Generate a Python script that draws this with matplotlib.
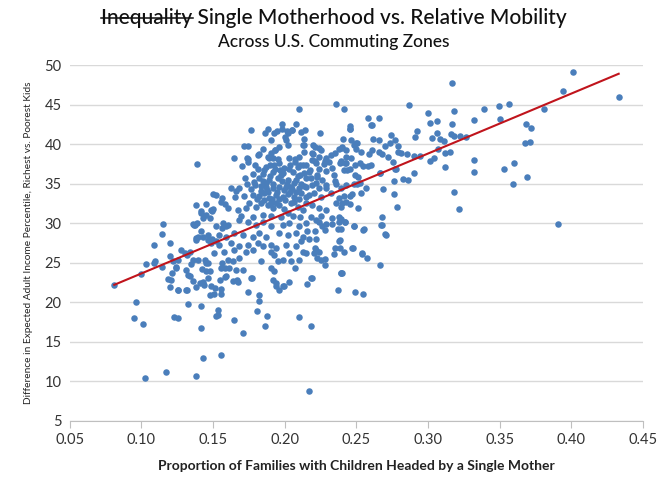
import numpy as np
import matplotlib
matplotlib.use("Agg")
import matplotlib.pyplot as plt
from matplotlib.lines import Line2D

# =========================================================
# DATA  (share of single-mother families, mobility gap)
# =========================================================

left_tail = [
    (0.081, 22.2), (0.0946, 18.0), (0.0965, 20.0), (0.101, 17.3), (0.0997, 23.6),
    (0.1028, 10.4), (0.1035, 24.8), (0.1088, 27.2), (0.1088, 25.0), (0.1144, 28.6),
    (0.114, 24.5), (0.117, 11.2), (0.120, 27.5), (0.120, 25.9), (0.1197, 21.9),
    (0.1186, 22.9), (0.1212, 23.7), (0.1227, 18.1), (0.1253, 18.0), (0.1253, 21.5),
    (0.124, 24.5), (0.1278, 26.6), (0.1325, 19.8), (0.1316, 21.5), (0.131, 24.1),
    (0.1327, 23.4), (0.1344, 24.8), (0.132, 26.0), (0.1358, 22.7), (0.1379, 21.9),
    (0.1383, 10.7), (0.1418, 19.5), (0.1413, 16.7), (0.143, 13.0), (0.1407, 22.4),
    (0.1434, 22.2), (0.142, 24.2), (0.1448, 23.9), (0.1395, 25.4), (0.145, 24.9),
    (0.148, 20.9), (0.1151, 29.9), (0.1093, 25.2), (0.1302, 26.2), (0.1337, 26.4),
    (0.136, 29.9), (0.1371, 29.8), (0.1395, 28.3), (0.1379, 27.9), (0.1418, 29.0),
    (0.1464, 27.9), (0.1488, 27.5), (0.122, 25.2), (0.1255, 25.4), (0.136, 25.4),
    (0.1441, 25.4), (0.1464, 25.0), (0.1244, 24.3), (0.1476, 23.9), (0.1209, 22.8),
    (0.1337, 23.3), (0.1430, 22.6), (0.1464, 23.1), (0.1488, 22.0), (0.1255, 21.6),
    (0.1314, 21.6), (0.139, 37.5), (0.1383, 32.3), (0.1453, 32.4), (0.1488, 31.7),
    (0.1418, 31.3), (0.1448, 31.0), (0.1476, 30.7), (0.143, 30.7), (0.1418, 31.5),
    (0.1388, 30.0), (0.1365, 29.8), (0.1383, 28.1), (0.143, 28.3), (0.1465, 28.5),
    (0.149, 28.0), (0.15, 33.7),
]

lower_band = [
    (0.1504, 21.1), (0.1513, 21.8), (0.1532, 19.0), (0.1532, 18.4), (0.1555, 13.3),
    (0.1555, 21.7), (0.1555, 21.0), (0.1548, 22.8), (0.1586, 23.2), (0.1585, 24.3),
    (0.156, 24.9), (0.1646, 17.7), (0.1667, 22.8), (0.1637, 22.7), (0.1711, 16.1),
    (0.1743, 21.3), (0.1769, 23.0), (0.1809, 18.9), (0.1823, 20.1), (0.1823, 20.9),
    (0.1865, 17.0), (0.1879, 18.3), (0.2099, 18.1), (0.2183, 17.0), (0.2171, 8.8),
    (0.2158, 22.3), (0.2183, 23.0), (0.2369, 21.5), (0.2397, 23.7), (0.2487, 21.3),
    (0.2548, 21.0), (0.2662, 24.7), (0.152, 18.2), (0.1602, 25.4), (0.1637, 25.2),
    (0.1683, 25.6), (0.1834, 25.2), (0.195, 25.2), (0.1985, 25.4), (0.2044, 25.2),
    (0.2102, 25.3), (0.1555, 24.3), (0.1614, 24.3), (0.166, 24.1), (0.1711, 24.1),
    (0.1904, 24.3), (0.1927, 24.0), (0.159, 23.3), (0.1672, 22.6), (0.1764, 23.1),
    (0.1916, 22.8), (0.1939, 22.4), (0.1985, 22.0), (0.2032, 22.6), (0.2227, 25.6),
    (0.225, 25.4), (0.228, 25.5), (0.228, 24.7), (0.2188, 23.1), (0.1941, 22.0),
    (0.1957, 21.5), (0.1992, 22.0), (0.2069, 24.3), (0.2394, 23.7), (0.2395, 23.7),
    (0.2413, 26.4), (0.2474, 26.9), (0.2541, 26.1), (0.2576, 25.6),
]

middle_band = [
    (0.1567, 30.0), (0.1602, 29.8), (0.152, 29.6), (0.1683, 30.4), (0.1741, 30.2),
    (0.1799, 29.8), (0.1846, 30.2), (0.1904, 29.6), (0.1985, 29.8), (0.2032, 30.0),
    (0.2102, 29.6), (0.2148, 30.0), (0.1539, 28.5), (0.159, 28.3), (0.1649, 28.8),
    (0.1706, 28.5), (0.1776, 28.3), (0.1823, 28.8), (0.1869, 28.3), (0.1962, 28.8),
    (0.202, 28.5), (0.2078, 28.8), (0.2125, 28.3), (0.1544, 27.3), (0.1625, 27.5),
    (0.1683, 27.1), (0.1741, 27.3), (0.1811, 27.5), (0.1846, 27.1), (0.1904, 27.3),
    (0.1939, 26.9), (0.2008, 27.3), (0.2078, 27.1), (0.2113, 27.7), (0.1509, 26.2),
    (0.1578, 26.4), (0.1649, 26.6), (0.1729, 26.4), (0.1776, 26.6), (0.1904, 26.4),
    (0.1927, 26.0), (0.2032, 26.2), (0.2125, 26.4), (0.1523, 27.7), (0.1588, 29.6),
    (0.1565, 29.4), (0.2216, 30.4), (0.2238, 30.2), (0.2285, 29.9), (0.2332, 29.9),
    (0.2378, 30.2), (0.242, 30.2), (0.2483, 29.7), (0.2157, 29.0), (0.221, 29.0),
    (0.2262, 29.6), (0.228, 29.1), (0.2374, 29.2), (0.2169, 28.0), (0.2216, 28.0),
    (0.2378, 27.8), (0.235, 26.9), (0.2146, 26.2), (0.2216, 26.6), (0.2238, 26.4),
    (0.2204, 26.2), (0.2343, 26.1), (0.221, 26.9), (0.2383, 26.8), (0.2392, 30.5),
    (0.2392, 29.3), (0.2385, 27.9), (0.2471, 26.9), (0.255, 29.3), (0.2548, 29.1),
    (0.2538, 26.2),
]

core_band = [
    (0.152, 33.6), (0.1562, 33.2), (0.1655, 33.3), (0.1718, 33.4), (0.1776, 33.6),
    (0.1823, 33.4), (0.1858, 33.8), (0.1893, 33.2), (0.1939, 33.6), (0.1985, 33.3),
    (0.202, 33.7), (0.2067, 33.3), (0.2116, 33.8), (0.2148, 33.3), (0.1497, 31.8),
    (0.1602, 31.9), (0.1672, 31.7), (0.1729, 31.9), (0.1799, 32.1), (0.1834, 32.5),
    (0.1881, 32.3), (0.1916, 31.9), (0.1962, 32.3), (0.1997, 31.8), (0.2044, 32.5),
    (0.209, 32.1), (0.2125, 31.7), (0.1694, 30.9), (0.1776, 30.8), (0.1846, 31.0),
    (0.1904, 30.9), (0.1974, 30.8), (0.2055, 30.9), (0.2106, 30.8), (0.1625, 34.4),
    (0.1683, 34.5), (0.1795, 34.8), (0.1834, 34.7), (0.1869, 34.6), (0.1916, 34.4),
    (0.1962, 34.6), (0.1997, 34.2), (0.2044, 34.6), (0.2102, 34.4), (0.2136, 34.7),
    (0.1725, 35.7), (0.1823, 35.7), (0.1893, 35.5), (0.195, 35.7), (0.202, 35.5),
    (0.2078, 35.4), (0.2148, 35.7), (0.1776, 36.2), (0.1846, 36.2), (0.1916, 36.5),
    (0.199, 36.3), (0.2055, 36.5), (0.2109, 36.1), (0.1702, 37.2), (0.1869, 37.1),
    (0.1927, 37.4), (0.1997, 37.0), (0.209, 37.1), (0.213, 37.4), (0.1746, 37.7),
    (0.1962, 37.6), (0.2069, 37.8), (0.1558, 32.7), (0.1581, 32.4), (0.1658, 34.1),
    (0.149, 31.6), (0.2146, 37.4), (0.2216, 37.6), (0.2273, 37.5), (0.2308, 37.7),
    (0.2169, 36.5), (0.2238, 36.8), (0.2285, 36.6), (0.2332, 37.0), (0.2390, 37.8),
    (0.2413, 36.7), (0.2181, 35.7), (0.2227, 35.9), (0.2262, 35.5), (0.2343, 36.1),
    (0.2146, 34.6), (0.2193, 34.8), (0.2238, 34.5), (0.2285, 34.4), (0.2355, 35.0),
    (0.2169, 33.6), (0.2204, 33.8), (0.225, 33.3), (0.232, 33.8), (0.2378, 33.2),
    (0.2401, 32.5), (0.2146, 32.5), (0.2193, 32.3), (0.2238, 31.9), (0.229, 31.7),
    (0.236, 32.5), (0.2181, 30.8), (0.225, 30.9), (0.2332, 30.6), (0.2378, 30.8),
    (0.2353, 35.3), (0.2227, 36.1), (0.222, 35.1), (0.229, 34.8), (0.2104, 37.4),
    (0.2174, 36.7), (0.1964, 36.7), (0.1855, 36.7), (0.1895, 37.4), (0.2506, 35.0),
    (0.2564, 34.4), (0.1808, 33.0), (0.1868, 35.1), (0.1947, 34.0), (0.2012, 35.0),
    (0.2081, 34.0), (0.1738, 34.9), (0.1905, 32.6), (0.2024, 31.3), (0.1845, 35.3),
    # densest part of the cloud
    (0.1832, 34.1), (0.1885, 33.9), (0.1918, 35.0), (0.1958, 33.1), (0.1979, 35.3),
    (0.2005, 34.6), (0.2036, 33.9), (0.2061, 35.1), (0.2089, 36.0), (0.2113, 35.0),
    (0.1852, 32.9), (0.1895, 36.0), (0.1931, 36.9), (0.1972, 36.1), (0.2029, 36.9),
    (0.2047, 34.3), (0.2098, 33.0), (0.1787, 35.2), (0.1812, 36.8), (0.1876, 34.2),
    (0.1911, 33.1), (0.1941, 32.6), (0.2003, 32.9), (0.2066, 32.7), (0.2135, 36.3),
    (0.1762, 34.3), (0.1751, 32.6), (0.1902, 38.9), (0.1958, 39.6), (0.1847, 39.4),
    (0.1794, 37.3), (0.2039, 37.4),
]

upper_band = [
    (0.2357, 45.1), (0.2097, 44.4), (0.2076, 42.6), (0.205, 41.8), (0.202, 41.4),
    (0.2004, 40.9), (0.1979, 41.9), (0.2141, 41.8), (0.2115, 41.5), (0.1862, 41.4),
    (0.1765, 41.8), (0.2243, 41.4), (0.2134, 40.6), (0.2009, 40.5), (0.2125, 39.9),
    (0.2195, 39.9), (0.2209, 39.6), (0.2239, 39.5), (0.2378, 39.4), (0.2353, 38.9),
    (0.2425, 39.2), (0.1718, 39.8), (0.1744, 39.8), (0.1649, 38.3), (0.1741, 38.1),
    (0.1823, 38.7), (0.1881, 38.4), (0.1929, 39.3), (0.1953, 38.1), (0.2069, 38.1),
    (0.2197, 38.8), (0.2213, 37.9), (0.2278, 37.9), (0.2388, 37.6), (0.2423, 37.6),
    (0.2434, 36.7), (0.198, 42.6), (0.1881, 41.9), (0.1923, 41.4), (0.1944, 41.7),
    (0.2013, 41.6), (0.2048, 41.8), (0.1906, 40.5), (0.202, 39.9), (0.2136, 39.9),
    (0.1932, 39.3), (0.1734, 38.2), (0.1816, 38.6), (0.1888, 38.3), (0.1916, 38.3),
    (0.2032, 38.2), (0.2102, 38.4), (0.2136, 39.0), (0.2397, 39.6), (0.2193, 38.9),
    (0.225, 39.3), (0.2188, 38.0), (0.2238, 38.4), (0.229, 38.2), (0.232, 38.6),
    (0.2415, 44.5), (0.2404, 40.7), (0.2399, 39.5), (0.2453, 42.3), (0.2457, 41.9),
    (0.2464, 40.5), (0.2482, 39.9), (0.2496, 39.4), (0.2499, 40.1), (0.2425, 38.4),
    (0.2459, 38.2), (0.2395, 37.9), (0.2429, 37.6), (0.2487, 37.4), (0.2455, 36.8),
    (0.2492, 36.1), (0.2511, 35.8), (0.2522, 35.1), (0.2481, 35.0), (0.2429, 34.8),
    (0.2395, 34.4), (0.2411, 33.4), (0.2453, 33.4), (0.2471, 33.7), (0.2529, 33.8),
    (0.2429, 32.7), (0.2453, 32.4), (0.2392, 32.1), (0.2513, 31.9), (0.2418, 30.2),
    (0.2485, 29.7), (0.2522, 37.6), (0.2534, 39.0), (0.2543, 37.2),
]

right_tail = [
    (0.401, 49.1), (0.4335, 46.0), (0.394, 46.7), (0.3806, 44.4), (0.3563, 45.1),
    (0.3494, 44.8), (0.3499, 43.2), (0.3392, 44.4), (0.3319, 43.0), (0.3685, 42.6),
    (0.372, 42.1), (0.3678, 40.1), (0.371, 40.3), (0.3598, 37.6), (0.3531, 36.9),
    (0.3689, 35.8), (0.3591, 35.0), (0.3905, 29.9), (0.3164, 47.7), (0.3178, 44.2),
    (0.3164, 42.5), (0.3162, 41.3), (0.318, 41.0), (0.322, 41.0), (0.3266, 40.9),
    (0.3322, 38.0), (0.3317, 36.5), (0.3178, 33.9), (0.3215, 31.8), (0.315, 39.0),
    (0.3117, 38.9), (0.3115, 37.1), (0.3108, 40.4), (0.308, 40.6), (0.3062, 41.4),
    (0.3029, 40.8), (0.3066, 39.4), (0.3011, 37.9), (0.3041, 38.3), (0.2925, 41.6),
    (0.2911, 40.9), (0.3011, 42.7), (0.3064, 42.9), (0.2997, 43.9), (0.2864, 45.0),
    (0.2944, 38.5), (0.2904, 36.4), (0.285, 38.8), (0.2904, 38.5), (0.2862, 35.4),
    (0.2822, 35.6), (0.2773, 36.9), (0.278, 32.1), (0.2759, 35.3), (0.2761, 33.7),
    (0.2685, 34.3), (0.2662, 36.4), (0.2678, 30.8), (0.2674, 29.8), (0.2704, 28.5),
    (0.2808, 38.9), (0.279, 39.0), (0.279, 39.8), (0.2755, 37.7), (0.2767, 36.9),
    (0.2767, 40.5), (0.2743, 41.2), (0.2722, 38.4), (0.2731, 40.1), (0.2697, 39.8),
    (0.268, 38.8), (0.2655, 39.0), (0.2655, 40.5), (0.2615, 40.7), (0.2611, 39.3),
    (0.2587, 38.8), (0.2599, 42.4), (0.2608, 42.4), (0.258, 43.3), (0.2655, 43.3),
    (0.2578, 37.2), (0.2604, 37.4), (0.2667, 36.4), (0.2506, 40.1), (0.2457, 41.9),
    (0.2698, 28.6), (0.2676, 29.8),
]

# red trend line, read at its two ends
trend_x = [0.081, 0.433]
trend_y = [22.2, 48.9]

x_ticks = [0.05, 0.10, 0.15, 0.20, 0.25, 0.30, 0.35, 0.40, 0.45]
y_ticks = [5, 10, 15, 20, 25, 30, 35, 40, 45, 50]

# =========================================================
# PLOT
# =========================================================

points = np.array(left_tail + lower_band + middle_band + core_band + upper_band + right_tail)

font = ["Lato", "DejaVu Sans"]
plt.rcParams["font.family"] = font

fig = plt.figure(figsize=(6.65, 4.82), dpi=100)
ax = fig.add_axes([0.105, 0.127, 0.862, 0.738])

ax.scatter(points[:, 0], points[:, 1], s=22, color="#4A7EBB", linewidths=0, zorder=3)
ax.plot(trend_x, trend_y, color="#C0141C", lw=1.5, zorder=4)

ax.set_xlim(0.05, 0.45)
ax.set_ylim(5, 50)
ax.set_xticks(x_ticks)
ax.set_yticks(y_ticks)
ax.set_xticklabels([f"{t:.2f}" for t in x_ticks])
ax.grid(axis="y", color="#D9D9D9", lw=1, zorder=0)
ax.set_axisbelow(True)

for side in ["left", "right", "top"]:
    ax.spines[side].set_visible(False)
ax.spines["bottom"].set_color("#BFBFBF")
ax.tick_params(axis="x", colors="#BFBFBF", length=5, labelcolor="#333333",
               labelsize=10.5, pad=4)
ax.tick_params(axis="y", length=0, labelcolor="#333333", labelsize=10.5, pad=6)

ax.set_xlabel("Proportion of Families with Children Headed by a Single Mother",
              fontsize=10, fontweight="bold", color="#222222", labelpad=9)
ax.set_ylabel("Difference in Expected Adult Income Percentile, Richest vs. Poorest Kids",
              fontsize=7.3, color="#222222", labelpad=8)

# -------------------------
# TITLE with struck-out word
# -------------------------
title = fig.text(0.502, 0.962, "Inequality Single Motherhood vs. Relative Mobility",
                 ha="center", va="center", fontsize=15, fontweight="medium",
                 color="#111111")
fig.text(0.502, 0.913, "Across U.S. Commuting Zones", ha="center", va="center",
         fontsize=12.5, fontweight="medium", color="#111111")

fig.canvas.draw()
renderer = fig.canvas.get_renderer()
bb = title.get_window_extent(renderer)
probe = fig.text(0, 0, "Inequality", fontsize=15, fontweight="medium")
pb = probe.get_window_extent(renderer)
probe.remove()
inv = fig.transFigure.inverted()
x0, y_mid = inv.transform((bb.x0, bb.y0 + bb.height * 0.52))
x1, _ = inv.transform((bb.x0 + pb.width + 1, 0))
fig.add_artist(Line2D([x0, x1], [y_mid, y_mid], transform=fig.transFigure,
                      color="#111111", lw=1.1))

fig.savefig("out.png", dpi=100)
